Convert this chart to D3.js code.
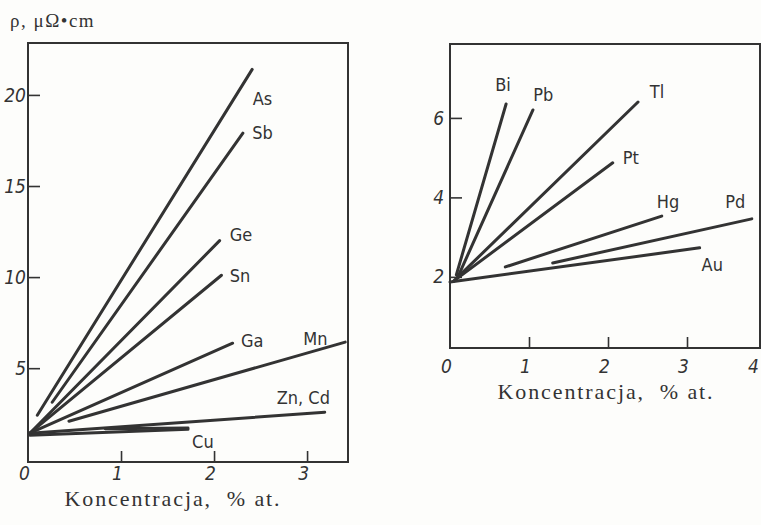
<!DOCTYPE html>
<html>
<head>
<meta charset="utf-8">
<script src="https://cdn.jsdelivr.net/npm/d3@7"></script>
<style>
  body { margin: 0; background: #fdfdfb; }
  svg { display: block; }
  .num { font-family: "DejaVu Sans Condensed", "DejaVu Sans", sans-serif; font-style: italic; font-size: 19px; fill: #333; }
  .lbl { font-family: "DejaVu Sans Condensed", "DejaVu Sans", sans-serif; font-size: 18px; fill: #333; }
  .title { font-family: "Liberation Serif", serif; fill: #333; white-space: pre; }
</style>
</head>
<body>
<svg id="chart" width="761" height="525"></svg>
<script>
// left panel: resistivity vs concentration
const leftNames = ["As", "Sb", "Ge", "Sn", "Ga", "Mn", "Zn, Cd", "Cu"];
const leftFrom = [[0.10, 2.42], [0.26, 3.13], [0.02, 1.43], [0.02, 1.43], [0.02, 1.43], [0.44, 2.09], [0.02, 1.43], [0.02, 1.32]];
const leftTo = [[2.41, 21.4], [2.31, 17.9], [2.06, 12.0], [2.08, 10.1], [2.20, 6.37], [3.41, 6.43], [3.19, 2.58], [1.72, 1.65]];
const leftLabelAt = [[2.52, 19.8], [2.52, 17.9], [2.29, 12.3], [2.28, 10.1], [2.41, 6.5], [3.09, 6.6], [2.96, 3.4], [1.88, 0.99]];
const leftExtraFrom = [0.83, 1.68];
const leftExtraTo = [1.72, 1.72];
const leftXTicks = [0, 1, 2, 3];
const leftYTicks = [5, 10, 15, 20];

// right panel
const rightNames = ["Bi", "Pb", "Tl", "Pt", "Hg", "Pd", "Au"];
const rightFrom = [[0.08, 2.05], [0.1, 2.0], [0.05, 1.9], [0.05, 1.9], [0.70, 2.25], [1.30, 2.35], [0.0, 1.87]];
const rightTo = [[0.71, 6.35], [1.05, 6.2], [2.38, 6.4], [2.06, 4.87], [2.68, 3.53], [3.82, 3.46], [3.16, 2.73]];
const rightLabelAt = [[0.67, 6.83], [1.18, 6.58], [2.62, 6.65], [2.29, 4.99], [2.76, 3.89], [3.61, 3.89], [3.32, 2.3]];
const rightXTicks = [0, 1, 2, 3, 4];
const rightYTicks = [2, 4, 6];

const xTitle = "Koncentracja,  % at.";
const yTitle = "ρ, μΩ•cm";

const svg = d3.select("#chart");
const ink = "#333";

function drawPanel(cfg) {
    const x = d3.scaleLinear().domain(cfg.xDomain).range(cfg.xRange);
    const y = d3.scaleLinear().domain(cfg.yDomain).range(cfg.yRange);
    const g = svg.append("g");

    // frame
    g.append("rect")
        .attr("x", cfg.xRange[0]).attr("y", cfg.yRange[1])
        .attr("width", cfg.xRange[1] - cfg.xRange[0])
        .attr("height", cfg.yRange[0] - cfg.yRange[1])
        .attr("fill", "none").attr("stroke", ink).attr("stroke-width", 2);

    // axes with inward ticks
    const xa = g.append("g")
        .attr("transform", `translate(0,${cfg.yRange[0]})`)
        .call(d3.axisBottom(x).tickValues(cfg.xTicks).tickSize(-11).tickPadding(cfg.xPad).tickFormat(d3.format("d")));
    const ya = g.append("g")
        .attr("transform", `translate(${cfg.xRange[0]},0)`)
        .call(d3.axisLeft(y).tickValues(cfg.yTicks).tickSize(-12).tickPadding(cfg.yPad).tickFormat(d3.format("d")));
    [xa, ya].forEach(a => {
        a.select(".domain").remove();
        a.selectAll("line").attr("stroke", ink).attr("stroke-width", 1.6);
        a.selectAll("text").attr("class", "num").attr("fill", ink);
    });
    xa.selectAll("text").attr("dx", d => d === 4 ? -13 : -4);
    xa.selectAll(".tick").filter(d => d === 0).select("line").remove();

    // lines
    g.selectAll(".ln")
        .data(cfg.names)
        .join("line")
        .attr("x1", (d, i) => x(cfg.from[i][0]))
        .attr("y1", (d, i) => y(cfg.from[i][1]))
        .attr("x2", (d, i) => x(cfg.to[i][0]))
        .attr("y2", (d, i) => y(cfg.to[i][1]))
        .attr("stroke", ink).attr("stroke-width", 3).attr("stroke-linecap", "round");

    if (cfg.extraFrom) {
        g.append("line")
            .attr("x1", x(cfg.extraFrom[0])).attr("y1", y(cfg.extraFrom[1]))
            .attr("x2", x(cfg.extraTo[0])).attr("y2", y(cfg.extraTo[1]))
            .attr("stroke", ink).attr("stroke-width", 3).attr("stroke-linecap", "round");
    }

    g.selectAll(".lab")
        .data(cfg.names)
        .join("text")
        .attr("class", "lbl")
        .attr("x", (d, i) => x(cfg.labelAt[i][0]))
        .attr("y", (d, i) => y(cfg.labelAt[i][1]))
        .attr("dy", "0.35em")
        .attr("text-anchor", "middle")
        .text(d => d);

    // x title
    svg.append("text")
        .attr("class", "title")
        .attr("x", cfg.titleX).attr("y", cfg.titleY)
        .attr("text-anchor", "middle")
        .style("font-size", "22px")
        .style("letter-spacing", "1.9px")
        .text(xTitle);
}

drawPanel({
    names: leftNames, from: leftFrom, to: leftTo, labelAt: leftLabelAt,
    extraFrom: leftExtraFrom, extraTo: leftExtraTo,
    xDomain: [0, 3.44], xRange: [28, 348],
    yDomain: [-0.15, 22.85], yRange: [462, 43],
    xTicks: leftXTicks, yTicks: leftYTicks, xPad: 5, yPad: 2,
    titleX: 173, titleY: 506
});

drawPanel({
    names: rightNames, from: rightFrom, to: rightTo, labelAt: rightLabelAt,
    xDomain: [0, 3.924], xRange: [450, 760],
    yDomain: [0.21, 7.86], yRange: [348, 44],
    xTicks: rightXTicks, yTicks: rightYTicks, xPad: 12, yPad: 6,
    titleX: 606, titleY: 399
});

// y title
svg.append("text")
    .attr("class", "title")
    .attr("x", 10).attr("y", 27)
    .style("font-size", "19px")
    .style("letter-spacing", "1.5px")
    .text(yTitle);
</script>
</body>
</html>
